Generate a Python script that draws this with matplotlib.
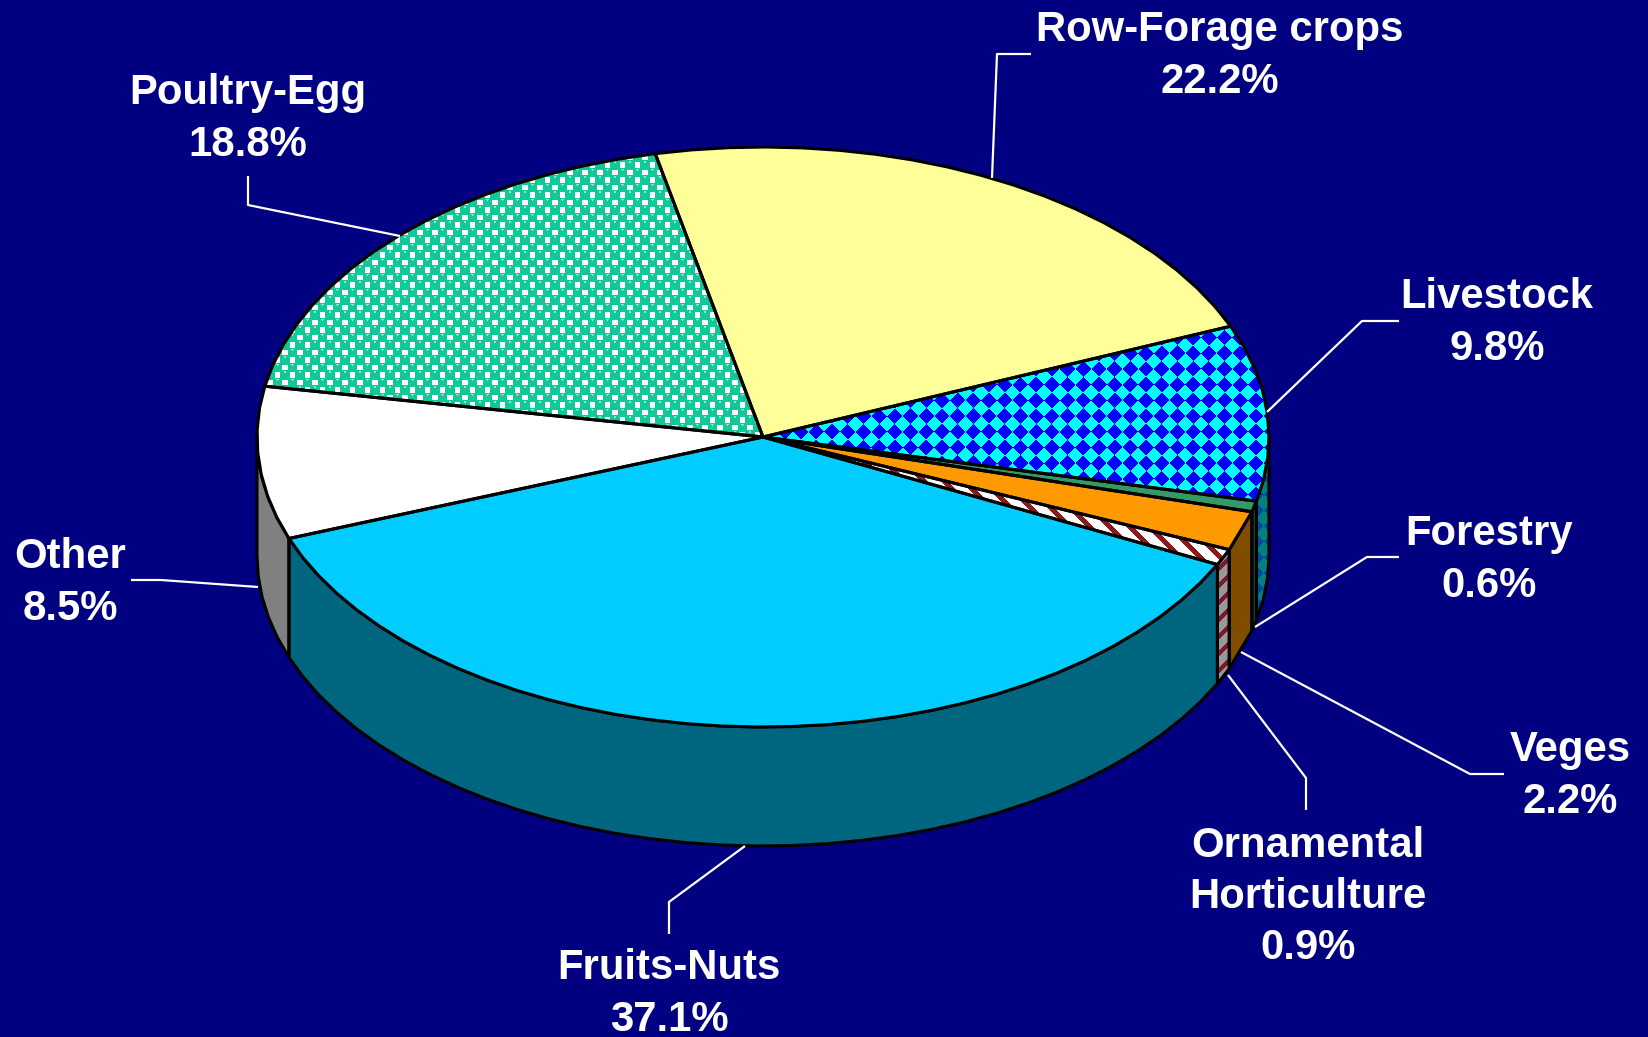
import numpy as np
import matplotlib
matplotlib.use("Agg")
import matplotlib.pyplot as plt
from matplotlib.patches import Polygon

plt.rcParams["font.family"] = ["Liberation Sans", "DejaVu Sans"]

# clockwise from the back edge of the pie
categories = ["Row-Forage crops", "Livestock", "Forestry", "Veges", "Ornamental\nHorticulture",
              "Fruits-Nuts", "Other", "Poultry-Egg"]
shares = [22.2, 9.8, 0.6, 2.2, 0.9, 37.1, 8.5, 18.8]

W, H = 1649, 1037
BG = "#000080"
CX, CY, RX, RY, DEPTH = 763, 437, 506, 290, 119
START = 102.3
FACET = 4.0

# fill, wall, label centre (px), leader line (px)
styles = [
    dict(top="#FFFF99", wall="#808050", label=(1220, 56),
         leader=[(1031, 54), (997, 54), (992, 178)]),
    dict(top="diamond", wall="diamond_dark", label=(1497, 323),
         leader=[(1399, 321), (1362, 321), (1267, 412)]),
    dict(top="#339966", wall="#1A4D33", label=(1489, 560),
         leader=[(1399, 557), (1367, 557), (1255, 627)]),
    dict(top="#FF9900", wall="#804D00", label=(1570, 776),
         leader=[(1504, 774), (1470, 774), (1241, 652)]),
    dict(top="stripes", wall="stripes_dark", label=(1308, 897),
         leader=[(1306, 810), (1306, 778), (1228, 675)]),
    dict(top="#00CCFF", wall="#006680", label=(669, 994),
         leader=[(669, 934), (669, 902), (745, 846)]),
    dict(top="#FFFFFF", wall="#808080", label=(70, 583),
         leader=[(131, 580), (161, 580), (258, 587)]),
    dict(top="spheres", wall="#0B6650", label=(248, 119),
         leader=[(248, 176), (248, 205), (400, 236)]),
]


def make_textures():
    yy, xx = np.mgrid[0:H, 0:W] + 0.5

    def rgb(c):
        return np.array(matplotlib.colors.to_rgb(c))

    def checker(c1, c2, cell=15.7):
        mask = (np.floor((xx + yy) / cell) + np.floor((xx - yy) / cell)) % 2 == 0
        return np.where(mask[..., None], rgb(c1), rgb(c2))

    def bands(pos, c1, c2, period, width):
        mask = (pos % period) < width
        return np.where(mask[..., None], rgb(c1), rgb(c2))

    # green spheres on a staggered grid, small white squares in the gaps
    step = 7.5
    ix, iy = np.round(xx / step), np.round(yy / step)
    ox, oy = xx - ix * step, yy - iy * step
    odd = (ix + iy) % 2 == 1
    sph = np.full((H, W, 3), rgb("#10C898"))
    sph[odd & (np.abs(ox) < 2.9) & (np.abs(oy) < 2.9)] = rgb("#FFFFFF")
    sph[~odd & (np.hypot(ox, oy + 3.4) < 1.5)] = rgb("#88E8D0")

    return dict(diamond=checker("#00FFFF", "#0000FF"),
                diamond_dark=checker("#008080", "#004C99"),
                stripes=bands(xx - yy, "#8B1A1A", "#FFFFFF", 20, 7),
                stripes_dark=bands(xx + yy, "#7A1A2A", "#999999", 17, 6),
                spheres=sph)


def arc(a0, a1, dy=0):
    n = max(int(abs(a1 - a0) / FACET), 1) + 1
    t = np.radians(np.linspace(a0, a1, n))
    return np.column_stack([CX + RX * np.cos(t), CY - RY * np.sin(t) + dy])


def paint(ax, pts, fill, textures, z):
    if fill in textures:
        patch = Polygon(pts, closed=True, fc="none", ec="none", zorder=z)
        ax.add_patch(patch)
        im = ax.imshow(textures[fill], extent=(0, W, H, 0), aspect="auto",
                       interpolation="bilinear", zorder=z)
        im.set_clip_path(patch)
    else:
        ax.add_patch(Polygon(pts, closed=True, fc=fill, ec="none", zorder=z))
    ax.add_patch(Polygon(pts, closed=True, fc="none", ec="black", lw=2.2,
                         joinstyle="round", zorder=z + 0.5))


fig = plt.figure(figsize=(W / 100, H / 100), dpi=100, facecolor=BG)
ax = fig.add_axes([0, 0, 1, 1])
ax.axis("off")
textures = make_textures()

sweeps = 360 * np.array(shares) / np.sum(shares)
ends = START - np.cumsum(sweeps)
starts = ends + sweeps

# walls first, only the part of each slice on the front half
for a0, a1, st in zip(starts, ends, styles):
    lo, hi = max(a1, -180), min(a0, 0)
    if hi <= lo:
        continue
    edge = arc(hi, lo)
    low = arc(lo, hi, DEPTH)
    paint(ax, np.vstack([edge, low]), st["wall"], textures, 2)

# then the top face
for a0, a1, st in zip(starts, ends, styles):
    pts = np.vstack([[[CX, CY]], arc(a0, a1)])
    paint(ax, pts, st["top"], textures, 3)

for cat, val, st in zip(categories, shares, styles):
    xs, ys = zip(*st["leader"])
    ax.plot(xs, ys, color="white", lw=1.6, zorder=5, solid_capstyle="butt")
    ax.text(*st["label"], f"{cat}\n{val}%", color="white", fontsize=30.2, fontweight="bold",
            ha="center", va="center", multialignment="center", linespacing=1.36, zorder=6)

ax.set_xlim(0, W)
ax.set_ylim(H, 0)
fig.savefig("out.png", dpi=100, facecolor=BG)
